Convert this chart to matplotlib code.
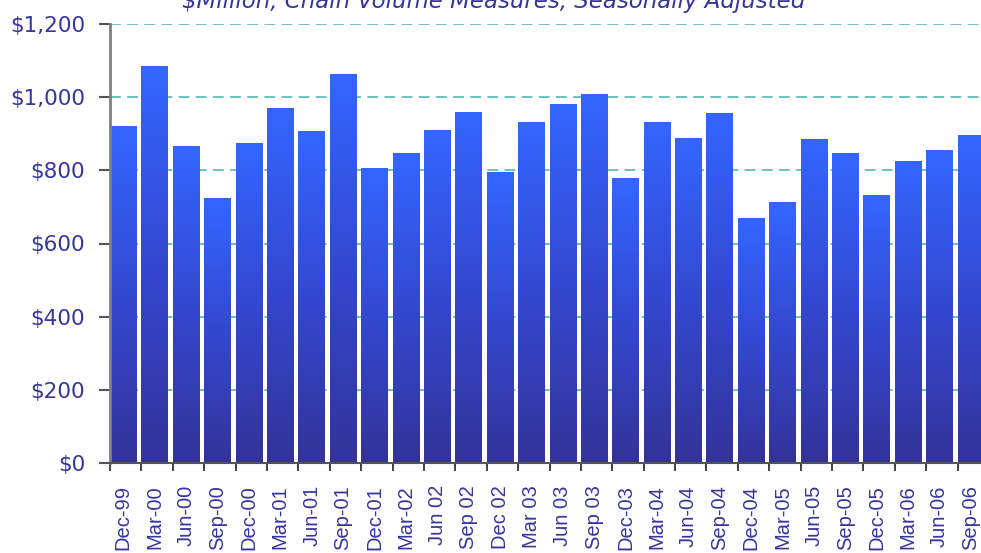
import matplotlib
matplotlib.use("Agg")
import matplotlib.pyplot as plt
import numpy as np
from matplotlib.colors import LinearSegmentedColormap
from matplotlib.ticker import FuncFormatter

quarters = ["Dec-99", "Mar-00", "Jun-00", "Sep-00", "Dec-00", "Mar-01", "Jun-01",
            "Sep-01", "Dec-01", "Mar-02", "Jun 02", "Sep 02", "Dec 02", "Mar 03",
            "Jun 03", "Sep 03", "Dec-03", "Mar-04", "Jun-04", "Sep-04", "Dec-04",
            "Mar-05", "Jun-05", "Sep-05", "Dec-05", "Mar-06", "Jun-06", "Sep-06"]
values = [921, 1085, 866, 724, 872, 970, 905, 1063, 806, 845, 910, 959, 795, 932,
          981, 1008, 779, 932, 888, 954, 668, 713, 883, 845, 730, 823, 855, 894]
y_ticks = [0, 200, 400, 600, 800, 1000, 1200]

TEXT = "#35359c"
cmap = LinearSegmentedColormap.from_list("bar", ["#333399", "#3448d0", "#3366ff"])

fig = plt.figure(figsize=(9.81, 5.53), dpi=100)
ax = fig.add_axes([110 / 981, 90 / 553, 879 / 981, 439 / 553])

bar_w = 0.85
grad = np.linspace(0, 1, 256).reshape(-1, 1)
for i, v in enumerate(values):
    ax.imshow(grad, extent=[i, i + bar_w, 0, v], origin="lower", cmap=cmap,
              aspect="auto", zorder=2, interpolation="bicubic")

ax.set_xlim(0, len(values))
ax.set_ylim(0, 1200)

ax.set_yticks(y_ticks)
ax.yaxis.set_major_formatter(FuncFormatter(lambda v, p: f"${v:,.0f}"))
for y in y_ticks[1:]:
    ax.axhline(y, color="#66bbbb", lw=1.3, ls=(0, (6, 3.5)), zorder=1)

ax.set_xticks(np.arange(len(values)) + bar_w / 2)
ax.set_xticklabels(quarters, rotation=90, family="Liberation Sans", fontsize=14.5)
ax.set_xticks(np.arange(len(values) + 1), minor=True)
ax.tick_params(axis="x", which="major", length=0, pad=16, labelcolor=TEXT)
ax.tick_params(axis="x", which="minor", length=6, width=1.2, color="#222222")
ax.tick_params(axis="y", length=8, width=1.5, color="#555555", pad=10,
               labelsize=15.5, labelcolor=TEXT)

for s in ["top", "right"]:
    ax.spines[s].set_visible(False)
ax.spines["left"].set_color("#808080")
ax.spines["left"].set_linewidth(2)
ax.spines["bottom"].set_color("#555555")
ax.spines["bottom"].set_linewidth(1.5)

fig.text(494 / 981, 1 - 8 / 553, "$Million, Chain Volume Measures, Seasonally Adjusted",
         ha="center", va="baseline", fontsize=16.5, style="italic", color=TEXT)

fig.savefig("out.png", dpi=100)
